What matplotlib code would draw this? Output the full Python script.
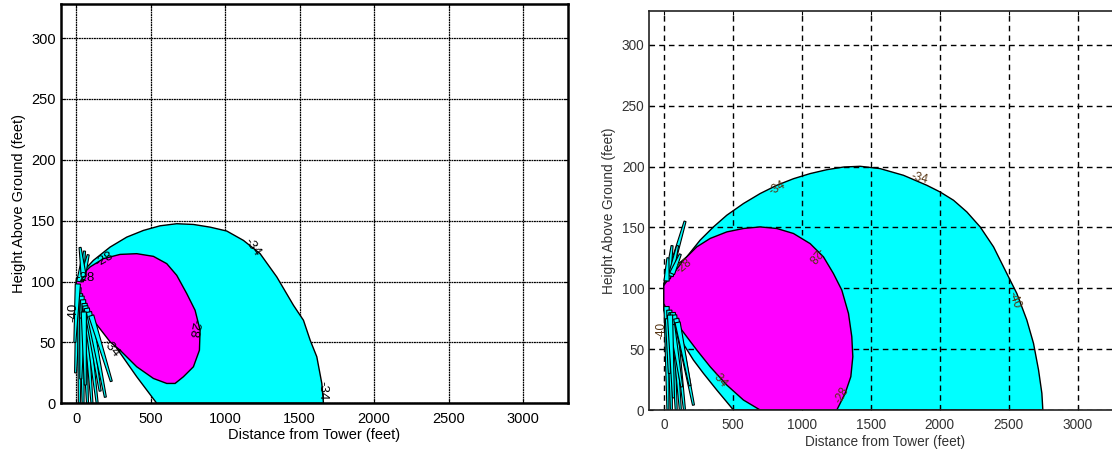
import numpy as np
import matplotlib
matplotlib.use("Agg")
import matplotlib.pyplot as plt

plt.rcParams['font.family'] = ['Liberation Sans', 'DejaVu Sans']

# ---- left panel: contour outlines (feet) ----
left_cyan_x = [0, 114.5, 226.5, 338.5, 450.5, 562.5, 674.5, 786.5, 898.5, 1010.5, 1122.5,
               1234.5, 1346.5, 1458.5, 1525.7, 1570.5, 1615.3, 1649, 1660,
               540, 405.7, 265, 175, 88, 12, 0]
left_cyan_y = [102.4, 117.4, 128.3, 136.5, 142, 145.8, 147.5, 146.9, 144.7, 141.5, 133.8,
               122.9, 103.8, 80.5, 68.2, 51.9, 38.2, 16.3, 0,
               0, 21.8, 46.4, 60, 76.4, 90.1, 95.6]
left_mag_x = [0, 92, 181.7, 293.7, 405.7, 517.7, 607.3, 674.5, 741.7, 797.7, 831.3, 826.8,
              786.5, 719.3, 663.3, 607.3, 517.7, 405.7, 293.7, 226.5, 114.5, 25, 0]
left_mag_y = [101, 112, 118.8, 122.3, 122.9, 120.7, 114.7, 105.1, 90.1, 76.4, 60, 43.6,
              30, 21.8, 16.3, 16.3, 20.4, 30, 43.6, 50.5, 68.2, 84.6, 92.8]

# spikes near the tower: root (x0, y0) -> tip (x1, y1)
left_spk_x0 = [15, 25, 35, 45, 55, 60, 70, 85, 100, 40, 50, 30, 40, 20, 50, 10]
left_spk_y0 = [95, 90, 88, 85, 82, 80, 78, 75, 72, 70, 75, 100, 102, 100, 104, 98]
left_spk_x1 = [-5, 20, 45, 75, 105, 140, 160, 195, 235, 30, 60, 55, 80, 40, 25, -10]
left_spk_y1 = [25, 0, 0, 0, 0, 0, 10, 5, 18, 20, 15, 125, 122, 118, 128, 50]

left_lbl_text = ["-34", "-28", "-34", "-28", "-34", "-40", "-28"]
left_lbl_x = [1180, 785, 1650, 190, 230, -20, 60]
left_lbl_y = [128, 62, 10, 118, 45, 75, 103]
left_lbl_rot = [-55, -100, -90, 30, -50, 90, 0]

# ---- right panel ----
right_cyan_x = [0, 21.5, 94, 166.4, 263, 359.7, 456.3, 577, 697.9, 818.6, 939.4, 1060, 1181,
                1302, 1422.5, 1567, 1736.5, 1905.6, 2002, 2099, 2195.5, 2292, 2389, 2485.3,
                2557.8, 2630, 2678.5, 2714.8, 2739, 2746,
                504.6, 384, 287.2, 214.8, 154.4, 45.7, 0]
right_cyan_y = [104, 109.4, 119, 125.8, 139.5, 150.4, 160, 169.6, 177.8, 184.6, 190, 194.2,
                197.4, 199.6, 200.2, 198.3, 192.8, 184.6, 179.1, 172.3, 162.7, 150.4, 134,
                112.1, 95.7, 73.9, 54.7, 32.9, 13.7, 0,
                0, 16.4, 30.1, 41, 52, 71, 82]
right_mag_x = [0, 9.4, 69.8, 142.3, 238.9, 335.5, 456.3, 577, 697.9, 818.6, 939.4, 1060,
               1156.8, 1229, 1289.6, 1338, 1362, 1369.4, 1355, 1314, 1253.4,
               697.9, 577, 456.3, 335.5, 238.9, 166.4, 94, 21.5, 0]
right_mag_y = [102, 104, 112.1, 123.1, 134, 140.9, 146.3, 149.1, 150.4, 149.1, 145, 136.7,
               125.8, 112.1, 98.5, 79.3, 60.2, 43.8, 27.4, 13.7, 0,
               0, 8.2, 20.5, 35.6, 49.3, 60.2, 71.1, 82.1, 87.5]

right_spk_x0 = [20, 40, 55, 65, 75, 90, 100, 60, 30, 40, 30, 50, 20, 60, 45]
right_spk_y0 = [85, 82, 80, 80, 78, 75, 72, 70, 75, 110, 108, 110, 106, 112, 78]
right_spk_x1 = [30, 55, 90, 120, 150, 215, 190, 130, 40, 154, 60, 100, 30, 120, 70]
right_spk_y1 = [0, 0, 0, 0, 0, 4, 20, 19, 30, 155, 135, 135, 125, 128, 10]

right_lbl_text = ["-34", "-28", "-34", "-40", "-28", "-34", "-28", "-40"]
right_lbl_x = [820, 1090, 1850, 2540, 1290, 400, 150, -20]
right_lbl_y = [182, 128, 190, 90, 12, 25, 118, 65]
right_lbl_rot = [30, -130, -15, -70, 60, -50, 40, 90]

ticks_x = [0, 500, 1000, 1500, 2000, 2500, 3000]
ticks_y = [0, 50, 100, 150, 200, 250, 300]


def spikes(ax, x0s, y0s, x1s, y1s, half_w=2.6):
    tr = ax.transData
    for x0, y0, x1, y1 in zip(x0s, y0s, x1s, y1s):
        p0 = tr.transform((x0, y0))
        p1 = tr.transform((x1, y1))
        d = p1 - p0
        n = np.array([-d[1], d[0]]) / np.hypot(*d)
        pts = [p0 + n * half_w, p1 + n * 1.0, p1 - n * 1.0, p0 - n * half_w]
        pts = tr.inverted().transform(pts)
        ax.fill(pts[:, 0], pts[:, 1], facecolor='#00FFFF', edgecolor='black',
                linewidth=0.8, zorder=4)


def setup(ax, fs, pad):
    ax.set_xlim(-105, 3305)
    ax.set_ylim(0, 328)
    ax.set_xticks(ticks_x)
    ax.set_yticks(ticks_y)
    ax.tick_params(axis='x', pad=pad)
    ax.tick_params(direction='in', top=True, right=True, length=3, labelsize=fs)
    ax.set_xlabel("Distance from Tower (feet)", fontsize=fs, labelpad=2)
    ax.set_ylabel("Height Above Ground (feet)", fontsize=fs, labelpad=4)


fig = plt.figure(figsize=(11.12, 4.54), dpi=100)

# left panel
ax1 = fig.add_axes([0.0546, 0.1117, 0.4565, 0.8795])
setup(ax1, 10.5, 6)
ax1.grid(True, color='black', linestyle=(0, (1.5, 0.5)), linewidth=0.9, zorder=1)
ax1.set_axisbelow(True)
ax1.fill(left_cyan_x, left_cyan_y, facecolor='#00FFFF', edgecolor='black', lw=1, zorder=2)
ax1.fill(left_mag_x, left_mag_y, facecolor='#FF00FF', edgecolor='black', lw=1, zorder=3)
spikes(ax1, left_spk_x0, left_spk_y0, left_spk_x1, left_spk_y1)
for t, x, y, r in zip(left_lbl_text, left_lbl_x, left_lbl_y, left_lbl_rot):
    ax1.text(x, y, t, rotation=r, fontsize=9.5, ha='center', va='center', zorder=6)
for s in ax1.spines.values():
    s.set_linewidth(1.8)
    s.set_zorder(7)

# right panel (runs off the right edge of the image)
ax2 = fig.add_axes([0.5839, 0.0969, 0.4233, 0.8795])
setup(ax2, 9.8, 6)
for lab in ax2.get_xticklabels() + ax2.get_yticklabels():
    lab.set_color('#333333')
ax2.xaxis.label.set_color('#333333')
ax2.yaxis.label.set_color('#333333')
ax2.grid(True, color='black', linestyle=(0, (4, 3)), linewidth=1.0)
ax2.set_axisbelow(False)
ax2.fill(right_cyan_x, right_cyan_y, facecolor='#00FFFF', edgecolor='black', lw=1, zorder=2)
ax2.fill(right_mag_x, right_mag_y, facecolor='#FF00FF', edgecolor='black', lw=1, zorder=3)
spikes(ax2, right_spk_x0, right_spk_y0, right_spk_x1, right_spk_y1)
for t, x, y, r in zip(right_lbl_text, right_lbl_x, right_lbl_y, right_lbl_rot):
    ax2.text(x, y, t, rotation=r, fontsize=8.5, color='#553311', ha='center',
             va='center', zorder=6)
for s in ax2.spines.values():
    s.set_linewidth(1.2)
    s.set_color('#222222')
    s.set_zorder(7)

fig.savefig("out.png", dpi=100)
